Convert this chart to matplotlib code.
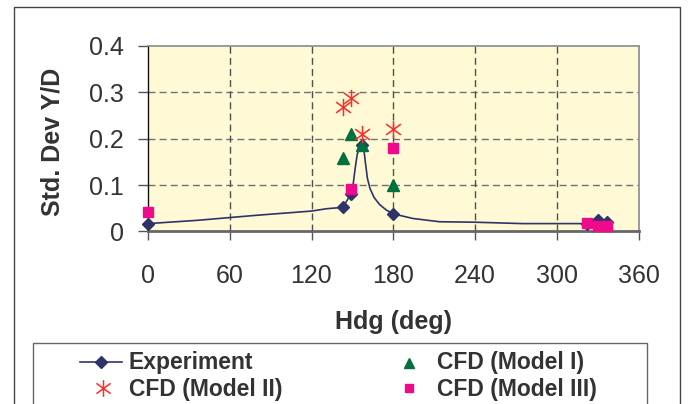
import matplotlib
matplotlib.use("Agg")
import matplotlib.pyplot as plt
from matplotlib.lines import Line2D
from matplotlib.patches import Rectangle
from matplotlib.path import Path

# ---------------- data ----------------
# Experiment: measured points (with markers)
exp_hdg = [0, 143, 149, 157, 180, 322, 330, 337]
exp_val = [0.017, 0.052, 0.081, 0.186, 0.038, 0.017, 0.025, 0.020]
# Experiment: smooth trend line
curve_hdg = [0, 36, 60, 80, 120, 131, 143, 149, 150.5, 152, 153.5, 155, 157,
             158.5, 159.5, 161, 163, 166, 170, 175, 180, 194.5, 214, 240, 275, 322]
curve_val = [0.017, 0.024, 0.030, 0.035, 0.044, 0.049, 0.052, 0.081, 0.100, 0.135,
             0.165, 0.180, 0.186, 0.175, 0.150, 0.115, 0.092, 0.073, 0.058, 0.046,
             0.038, 0.028, 0.021, 0.020, 0.017, 0.017]
m1_hdg = [143, 149, 157, 180]
m1_val = [0.159, 0.209, 0.186, 0.100]
m2_hdg = [143, 149, 157, 180]
m2_val = [0.269, 0.288, 0.209, 0.221]
m3_hdg = [0, 149, 180, 322, 330, 337]
m3_val = [0.041, 0.092, 0.179, 0.018, 0.012, 0.012]

xticks = [0, 60, 120, 180, 240, 300, 360]
yticks = [0, 0.1, 0.2, 0.3, 0.4]
ytick_labels = ["0", "0.1", "0.2", "0.3", "0.4"]
labels = ["Experiment", "CFD (Model I)", "CFD (Model II)", "CFD (Model III)"]

# ---------------- style ----------------
W, H = 688, 404
plt.rcParams["font.family"] = ["Liberation Sans", "DejaVu Sans"]
TXT = "#333333"
C_EXP = "#2E3468"
C_M1 = "#00703C"
C_M2 = "#FF2A2A"
C_M3 = "#EE0A8A"

# Excel-style asterisk: vertical bar plus a wide X
_c, _s = 0.85, 0.62
AST = Path([(0, -1), (0, 1), (-_c, -_s), (_c, _s), (-_c, _s), (_c, -_s)],
           [Path.MOVETO, Path.LINETO] * 3)

fig = plt.figure(figsize=(W / 100, H / 100), dpi=100)
fig.patch.set_facecolor("white")

def fx(px):
    return px / W

def fy(py):
    return 1 - py / H

L, R, T, B = 148, 638.5, 45.7, 231.5
ax = fig.add_axes([fx(L), fy(B), fx(R) - fx(L), fy(T) - fy(B)])
ax.set_facecolor("#FFF9D5")

ax.plot(curve_hdg, curve_val, color=C_EXP, lw=1.2, zorder=3, clip_on=False)
ax.plot(exp_hdg, exp_val, linestyle="none", marker="D", ms=6.5, color=C_EXP,
        zorder=4, clip_on=False)
ax.plot(m1_hdg, m1_val, linestyle="none", marker="^", ms=8, color=C_M1,
        zorder=5, clip_on=False)
ax.plot(m2_hdg, m2_val, linestyle="none", marker=AST, ms=12.5, mew=1.1,
        color=C_M2, zorder=6, clip_on=False)
ax.plot(m3_hdg, m3_val, linestyle="none", marker="s", ms=6.5, color=C_M3,
        zorder=7, clip_on=False)

ax.set_xlim(0, 360)
ax.set_ylim(0, 0.4)
ax.set_xticks(xticks)
ax.set_yticks(yticks)
ax.set_yticklabels(ytick_labels)

# grid
for yv in yticks[1:-1]:
    ax.axhline(yv, color="#707070", lw=1.0, dashes=(5, 3), zorder=1)
for xv in xticks[1:-1]:
    ax.axvline(xv, color="#505050", lw=1.0, dashes=(5, 3), zorder=1)

# spines
ax.spines["left"].set_color("#111111")
ax.spines["left"].set_linewidth(1.0)
ax.spines["bottom"].set_color("#666666")
ax.spines["bottom"].set_linewidth(2.0)
ax.spines["top"].set_color("#8a8a8a")
ax.spines["right"].set_color("#8a8a8a")
ax.spines["top"].set_linewidth(1.2)
ax.spines["right"].set_linewidth(1.2)

ax.tick_params(axis="x", direction="out", length=6.5, width=1, color="#555555",
               pad=17, labelsize=18, labelcolor=TXT)
ax.tick_params(axis="y", direction="out", length=7, width=1, color="#555555",
               pad=10.5, labelsize=18, labelcolor=TXT)

ax.set_xlabel("Hdg (deg)", fontsize=18, fontweight="bold", color=TXT, va="baseline")
ax.xaxis.set_label_coords(0.5, (B - 329.3) / (B - T))
ax.set_ylabel("Std. Dev Y/D", fontsize=18, fontweight="bold", color=TXT, va="center")
ax.yaxis.set_label_coords((53 - L) / (R - L), 0.48)

# outer chart frame and legend box
fig.patches.append(Rectangle((fx(14), -0.05), fx(680) - fx(14), fy(7) + 0.05,
                             transform=fig.transFigure, fill=False,
                             edgecolor="#444444", lw=1.0, zorder=0))
fig.patches.append(Rectangle((fx(32.7), -0.05), fx(646.7) - fx(32.7), fy(343.3) + 0.05,
                             transform=fig.transFigure, fill=False,
                             edgecolor="#666666", lw=1.0, zorder=0))

# legend (manual, Excel-style)
tf = fig.transFigure
fig.add_artist(Line2D([fx(80), fx(122)], [fy(362), fy(362)], color=C_EXP, lw=1.2,
                      transform=tf))
fig.add_artist(Line2D([fx(101)], [fy(362)], marker="D", ms=6, color=C_EXP,
                      linestyle="none", transform=tf))
fig.add_artist(Line2D([fx(409)], [fy(363)], marker="^", ms=7, color=C_M1,
                      linestyle="none", transform=tf))
fig.add_artist(Line2D([fx(103)], [fy(388)], marker=AST, ms=12, mew=1.1, color=C_M2,
                      linestyle="none", transform=tf))
fig.add_artist(Line2D([fx(409)], [fy(388)], marker="s", ms=5.5, color=C_M3,
                      linestyle="none", transform=tf))
leg_kw = dict(fontsize=16.5, fontweight="bold", color=TXT, va="baseline", ha="left")
fig.text(fx(129), fy(369.5), labels[0], **leg_kw)
fig.text(fx(437), fy(369.5), labels[1], **leg_kw)
fig.text(fx(129), fy(396), labels[2], **leg_kw)
fig.text(fx(437), fy(396), labels[3], **leg_kw)

fig.savefig("out.png", dpi=100, facecolor="white")
